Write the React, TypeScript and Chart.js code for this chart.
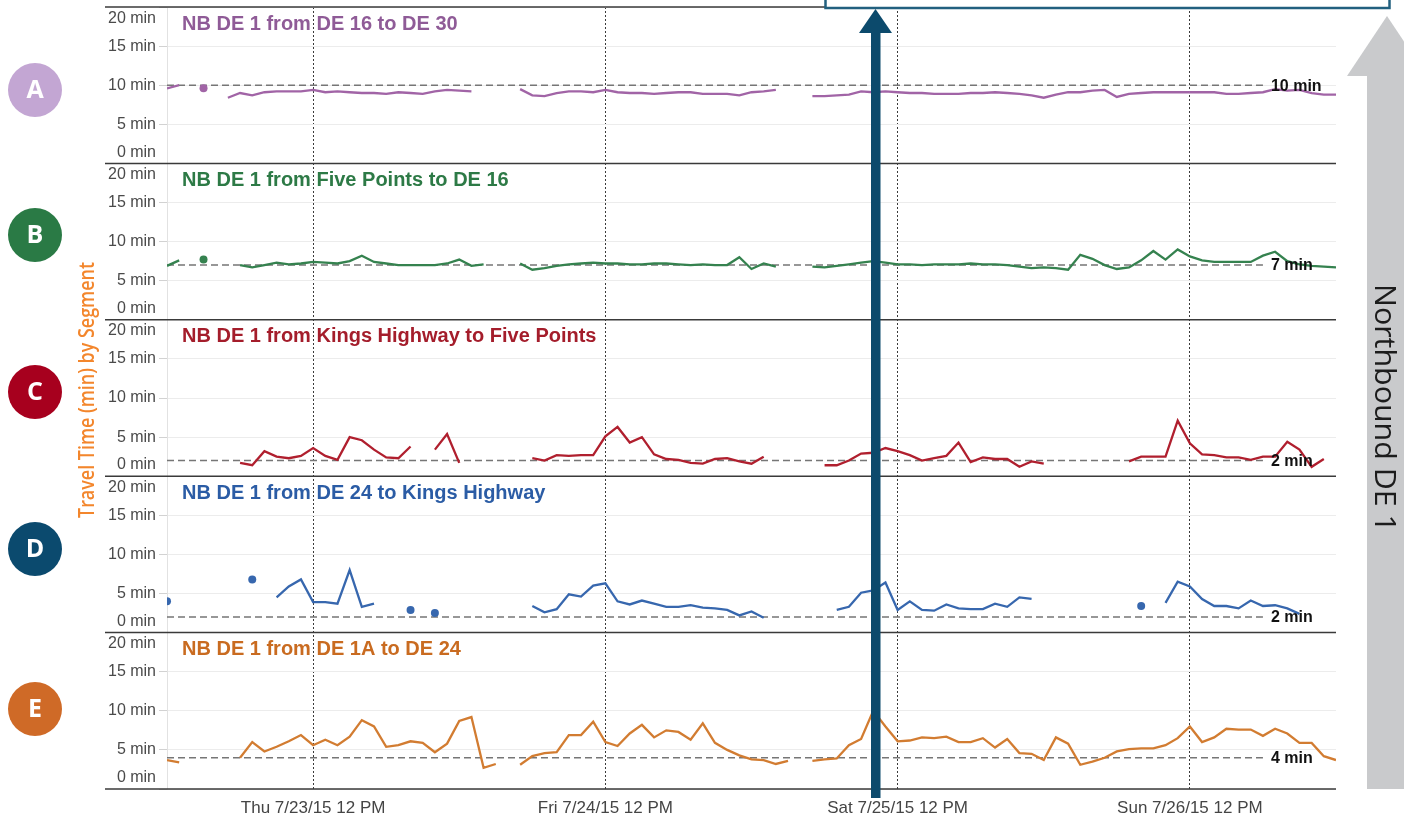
import React, { useEffect, useRef } from 'react';
import { Chart, registerables } from 'chart.js';

Chart.register(...registerables);

// x domain: hours since Thu 7/23/15 12:00 AM (hourly samples)
const hours: number[] = Array.from({ length: 97 }, (_, i) => i);
const xTickHours = [12, 36, 60, 84];
const xTickLabels = ['Thu 7/23/15 12 PM', 'Fri 7/24/15 12 PM', 'Sat 7/25/15 12 PM', 'Sun 7/26/15 12 PM'];
const yTickValues = [0, 5, 10, 15, 20];

const segmentLetters = ['A', 'B', 'C', 'D', 'E'];
const segmentTitles = [
  'NB DE 1 from DE 16 to DE 30',
  'NB DE 1 from Five Points to DE 16',
  'NB DE 1 from Kings Highway to Five Points',
  'NB DE 1 from DE 24 to Kings Highway',
  'NB DE 1 from DE 1A to DE 24',
];
const segmentBaselines = [10, 7, 2, 2, 4];

const seriesA = [
  9.6, 10.0, null, 9.6, null, 8.4, 9.0, 8.7, 9.1, 9.2,
  9.2, 9.2, 9.4, 9.1, 9.2, 9.1, 9.0, 9.0, 8.9, 9.1,
  9.0, 8.9, 9.2, 9.4, 9.3, 9.2, null, null, null, 9.5,
  8.7, 8.6, 9.0, 9.2, 9.2, 9.1, 9.4, 9.1, 9.0, 9.0,
  8.9, 9.0, 9.1, 9.1, 8.9, 8.9, 8.9, 8.7, 9.1, 9.2,
  9.4, null, null, 8.6, 8.6, 8.7, 8.8, 9.2, 9.1, 9.2,
  9.1, 9.0, 9.0, 8.9, 8.9, 8.9, 9.0, 9.0, 9.1, 9.0,
  8.9, 8.7, 8.4, 8.8, 9.1, 9.1, 9.3, 9.4, 8.5, 8.9,
  9.0, 9.1, 9.1, 9.1, 9.1, 9.1, 9.1, 8.9, 8.9, 9.0,
  9.1, 9.5, 9.3, 9.4, 9.0, 8.8, 8.8,
];
const seriesB = [
  6.9, 7.6, null, 7.7, null, null, 7.0, 6.7, 7.0, 7.3,
  7.1, 7.2, 7.4, 7.3, 7.2, 7.5, 8.2, 7.4, 7.2, 7.0,
  7.0, 7.0, 7.0, 7.2, 7.7, 6.9, 7.1, null, null, 7.2,
  6.4, 6.6, 6.9, 7.1, 7.2, 7.3, 7.2, 7.2, 7.1, 7.1,
  7.2, 7.2, 7.1, 7.0, 7.1, 7.0, 7.0, 8.0, 6.5, 7.2,
  6.8, null, null, 6.8, 6.7, 6.9, 7.1, 7.3, 7.5, 7.3,
  7.1, 7.1, 7.0, 7.1, 7.1, 7.1, 7.2, 7.1, 7.1, 7.0,
  6.8, 6.6, 6.7, 6.6, 6.4, 8.3, 7.8, 7.0, 6.5, 6.7,
  7.6, 8.8, 7.7, 9.0, 8.1, 7.6, 7.4, 7.4, 7.4, 7.4,
  8.2, 8.7, 7.5, 7.1, 6.9, 6.8, 6.7,
];
const seriesC = [
  null, null, null, null, null, null, 1.7, 1.4, 3.2, 2.5,
  2.3, 2.6, 3.6, 2.6, 2.1, 5.0, 4.6, 3.4, 2.4, 2.3,
  3.8, null, 3.4, 5.4, 1.7, null, null, null, null, null,
  2.3, 2.0, 2.7, 2.6, 2.7, 2.7, 5.1, 6.3, 4.3, 5.0,
  2.8, 2.2, 2.1, 1.7, 1.6, 2.2, 2.3, 1.9, 1.6, 2.5,
  null, null, null, null, 1.4, 1.4, 2.0, 2.9, 3.0, 3.6,
  3.2, 2.7, 2.0, 2.3, 2.6, 4.3, 1.8, 2.4, 2.2, 2.2,
  1.2, 1.9, 1.6, null, null, null, null, null, null, 1.9,
  2.5, 2.5, 2.5, 7.1, 4.2, 2.8, 2.7, 2.4, 2.4, 2.1,
  2.5, 2.5, 4.4, 3.4, 1.2, 2.2, null,
];
const seriesD = [
  4.0, null, null, null, null, null, null, 6.8, null, 4.5,
  5.9, 6.8, 3.9, 3.9, 3.7, 8.0, 3.3, 3.7, null, null,
  2.9, null, 2.5, null, null, null, null, null, null, null,
  3.4, 2.6, 3.0, 4.9, 4.6, 6.0, 6.3, 4.0, 3.6, 4.1,
  3.7, 3.3, 3.3, 3.5, 3.2, 3.1, 2.9, 2.2, 2.7, 1.9,
  null, null, null, null, null, 2.9, 3.3, 5.1, 5.4, 6.4,
  2.9, 4.0, 2.9, 2.8, 3.6, 3.1, 3.0, 3.0, 3.7, 3.3,
  4.5, 4.3, null, null, null, null, null, null, null, null,
  3.4, null, 3.8, 6.5, 5.9, 4.3, 3.4, 3.4, 3.1, 4.1,
  3.4, 3.5, 3.1, 2.4, null, null, null,
];
const seriesE = [
  3.7, 3.4, null, null, null, null, 4.0, 6.0, 4.8, 5.4,
  6.1, 6.9, 5.6, 6.3, 5.6, 6.7, 8.8, 8.0, 5.4, 5.6,
  6.1, 5.9, 4.7, 5.8, 8.7, 9.2, 2.7, 3.2, null, 3.1,
  4.2, 4.6, 4.7, 6.9, 6.9, 8.6, 6.0, 5.5, 7.1, 8.2,
  6.6, 7.5, 7.3, 6.3, 8.4, 5.9, 5.0, 4.3, 3.8, 3.7,
  3.2, 3.6, null, 3.6, 3.8, 3.9, 5.6, 6.4, 10.0, 8.0,
  6.1, 6.2, 6.6, 6.5, 6.7, 6.0, 6.0, 6.5, 5.3, 6.4,
  4.6, 4.5, 3.7, 6.6, 5.8, 3.1, 3.5, 4.0, 4.8, 5.1,
  5.2, 5.2, 5.6, 6.5, 8.0, 6.0, 6.6, 7.7, 7.6, 7.6,
  6.8, 7.7, 7.1, 5.9, 5.9, 4.2, 3.7,
];
const allSeries = [seriesA, seriesB, seriesC, seriesD, seriesE];
const baselineEndHour = 90;

// styles
const lineColors = ['#a164a6', '#35824f', '#b01f2e', '#3767ae', '#d27c31'];
const titleColors = ['#8f5b97', '#2d7a46', '#a41d2b', '#2b5ca5', '#c96b20'];
const circleColors = ['#c3a6d3', '#2a7a45', '#a7001e', '#0b4a6e', '#cf6a27'];
const circleY = [90, 235, 392, 549, 709];
const FONT = '"Liberation Sans", Arial, Helvetica, sans-serif';

export default function App() {
  const ref = useRef<HTMLCanvasElement | null>(null);

  useEffect(() => {
    document.body.style.margin = '0';
    const canvas = ref.current;
    if (!canvas) return;

    const datasets: any[] = [];
    segmentLetters.forEach((L, i) => {
      const data = allSeries[i].map((v, j) => ({ x: hours[j], y: v }));
      datasets.push({
        label: segmentTitles[i],
        data,
        xAxisID: 'x',
        yAxisID: 'y' + L,
        borderColor: lineColors[i],
        backgroundColor: lineColors[i],
        borderWidth: 2.3,
        tension: 0,
        spanGaps: false,
        order: 1,
        pointBorderWidth: 0,
        pointRadius: (ctx: any) => {
          const d = ctx.dataset.data;
          const k = ctx.dataIndex;
          const cur = d[k] ? d[k].y : null;
          const prev = k > 0 ? d[k - 1].y : null;
          const next = k < d.length - 1 ? d[k + 1].y : null;
          return cur != null && prev == null && next == null ? 4 : 0;
        },
      });
      datasets.push({
        label: 'baseline ' + L,
        data: [
          { x: hours[0], y: segmentBaselines[i] },
          { x: baselineEndHour, y: segmentBaselines[i] },
        ],
        xAxisID: 'x',
        yAxisID: 'y' + L,
        borderColor: '#767676',
        borderWidth: 1.6,
        borderDash: [7, 4],
        pointRadius: 0,
        order: 2,
      });
    });

    const scales: any = {
      x: {
        type: 'linear',
        position: 'bottom',
        min: 0,
        max: 96,
        afterBuildTicks: (s: any) => {
          s.ticks = xTickHours.map((v) => ({ value: v }));
        },
        afterFit: (s: any) => {
          s.height = 32;
          s.paddingLeft = 0;
          s.paddingRight = 0;
        },
        ticks: {
          autoSkip: false,
          maxRotation: 0,
          padding: 9,
          color: '#454545',
          font: { family: FONT, size: 17 },
          callback: (v: any) => {
            const k = xTickHours.indexOf(Number(v));
            return k >= 0 ? xTickLabels[k] : '';
          },
        },
        grid: { color: '#3a3a3a', lineWidth: 1, drawTicks: false, borderDash: [2, 2] },
        border: { display: false, dash: [2, 2] },
      },
    };
    ['E', 'D', 'C', 'B', 'A'].forEach((L) => {
      scales['y' + L] = {
        type: 'linear',
        position: 'left',
        stack: 'panels',
        stackWeight: 1,
        min: 0,
        max: 20,
        afterBuildTicks: (s: any) => {
          s.ticks = yTickValues.map((v) => ({ value: v }));
        },
        afterFit: (s: any) => {
          s.width = 167;
          s.paddingTop = 0;
          s.paddingBottom = 0;
        },
        ticks: {
          autoSkip: false,
          padding: 3,
          color: '#4a4a4a',
          font: { family: FONT, size: 16, lineHeight: 1.4 },
          callback: (v: any) => {
            const n = Number(v);
            if (n === 20) return ['', '20 min'];
            if (n === 0) return ['0 min', ''];
            return n + ' min';
          },
        },
        grid: { color: '#ececec', lineWidth: 1, tickLength: 8, tickColor: '#d2d2d2' },
        border: { display: true, color: '#e2e2e2' },
      };
    });

    const decor = {
      id: 'decor',
      beforeDraw(chart: any) {
        const ctx = chart.ctx;
        ctx.save();
        ctx.fillStyle = '#ffffff';
        ctx.fillRect(0, 0, chart.width, chart.height);
        const left = chart.chartArea.left;
        ctx.font = 'bold 20px ' + FONT;
        ctx.textBaseline = 'middle';
        ctx.textAlign = 'left';
        segmentLetters.forEach((L, i) => {
          const s = chart.scales['y' + L];
          ctx.fillStyle = titleColors[i];
          ctx.fillText(segmentTitles[i], left + 15, s.top + 17);
        });
        ctx.restore();
      },
      afterDraw(chart: any) {
        const ctx = chart.ctx;
        const area = chart.chartArea;
        const xs = chart.scales.x;
        ctx.save();
        // baseline labels
        ctx.font = 'bold 16px ' + FONT;
        ctx.fillStyle = '#111111';
        ctx.textAlign = 'left';
        ctx.textBaseline = 'middle';
        segmentLetters.forEach((L, i) => {
          const s = chart.scales['y' + L];
          ctx.fillText(segmentBaselines[i] + ' min', xs.getPixelForValue(baselineEndHour) + 8, s.getPixelForValue(segmentBaselines[i]) + 1);
        });
        // panel separators
        ctx.strokeStyle = '#3a3a3a';
        ctx.lineWidth = 1.5;
        const ys: number[] = [chart.scales.yA.top];
        segmentLetters.forEach((L) => ys.push(chart.scales['y' + L].bottom));
        ys.forEach((y) => {
          ctx.beginPath();
          ctx.moveTo(105, y);
          ctx.lineTo(area.right, y);
          ctx.stroke();
        });
        // top-right box
        ctx.fillStyle = '#ffffff';
        ctx.fillRect(825, -4, 565, 12);
        ctx.strokeStyle = '#22607f';
        ctx.lineWidth = 2.5;
        ctx.strokeRect(825.5, -6, 564, 14);
        // dark blue arrow
        ctx.fillStyle = '#0c4a6c';
        ctx.fillRect(871, 30, 9.5, 768);
        ctx.beginPath();
        ctx.moveTo(859, 33);
        ctx.lineTo(892, 33);
        ctx.lineTo(875.5, 9);
        ctx.closePath();
        ctx.fill();
        // grey arrow
        ctx.fillStyle = '#c9cacc';
        ctx.fillRect(1367, 74, 40, 715);
        ctx.beginPath();
        ctx.moveTo(1347, 76);
        ctx.lineTo(1427, 76);
        ctx.lineTo(1387, 16);
        ctx.closePath();
        ctx.fill();
        // Northbound text
        ctx.save();
        ctx.translate(1384, 408);
        ctx.rotate(Math.PI / 2);
        ctx.font = '400 30px "Open Sans", ' + FONT;
        const t1 = 'Northbound DE 1';
        const w1 = ctx.measureText(t1).width;
        ctx.scale(248 / w1, 1);
        ctx.fillStyle = '#1c1c1c';
        ctx.textAlign = 'center';
        ctx.textBaseline = 'middle';
        ctx.fillText(t1, 0, 0);
        ctx.restore();
        // left axis title
        ctx.save();
        ctx.translate(88, 390);
        ctx.rotate(-Math.PI / 2);
        ctx.font = '600 21px "Open Sans", ' + FONT;
        const t2 = 'Travel Time (min) by Segment';
        const w2 = ctx.measureText(t2).width;
        ctx.scale(256 / w2, 1);
        ctx.fillStyle = '#f3862c';
        ctx.textAlign = 'center';
        ctx.textBaseline = 'middle';
        ctx.fillText(t2, 0, 0);
        ctx.restore();
        // letter circles
        segmentLetters.forEach((L, i) => {
          ctx.beginPath();
          ctx.arc(35, circleY[i], 27, 0, Math.PI * 2);
          ctx.fillStyle = circleColors[i];
          ctx.fill();
          ctx.fillStyle = '#ffffff';
          ctx.font = 'bold 25px "Open Sans", ' + FONT;
          ctx.textAlign = 'center';
          ctx.textBaseline = 'middle';
          ctx.fillText(L, 35, circleY[i] + 1);
        });
        ctx.restore();
      },
    };

    const chart = new Chart(canvas, {
      type: 'line',
      data: { datasets },
      options: {
        responsive: false,
        devicePixelRatio: 1,
        animation: false,
        events: [],
        layout: { padding: { top: 7, right: 68, left: 0, bottom: 0 } },
        plugins: { legend: { display: false }, tooltip: { enabled: false }, title: { display: false } },
        scales,
      },
      plugins: [decor],
    } as any);

    return () => chart.destroy();
  }, []);

  return (
    <div style={{ width: 1404, height: 821 }}>
      <canvas ref={ref} width={1404} height={821} style={{ display: 'block', width: 1404, height: 821 }} />
    </div>
  );
}
